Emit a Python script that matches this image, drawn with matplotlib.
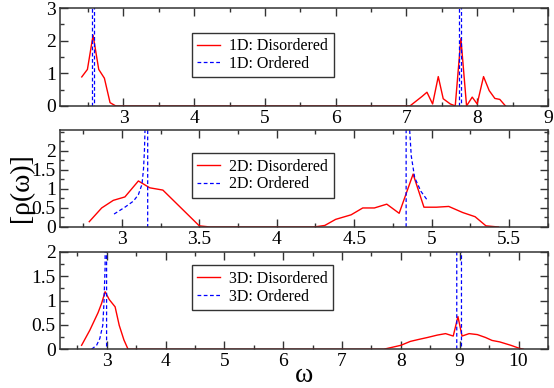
import numpy as np
import matplotlib
matplotlib.use("Agg")
import matplotlib.pyplot as plt
from matplotlib.ticker import MultipleLocator, FixedLocator


SERIF = "Liberation Serif"
plt.rcParams["font.family"] = SERIF

NAN = np.nan

# 1D chain
omega_1d_dis = [2.41, 2.49, 2.57, 2.65, 2.73, 2.81, 2.89, 3.5, 4.5, 5.5, 6.5, 7.05,
                7.22, 7.29, 7.37, 7.45, 7.52, 7.62, 7.69, 7.77, 7.85, 7.93, 8.00,
                8.09, 8.17, 8.25, 8.32, 8.40]
rho_1d_dis = [0.89, 1.12, 2.17, 1.12, 0.85, 0.10, 0.0, 0.0, 0.0, 0.0, 0.0, 0.0,
              0.29, 0.42, 0.06, 0.90, 0.22, 0.06, 0.0, 2.07, 0.0, 0.27, 0.06,
              0.90, 0.47, 0.23, 0.20, 0.0]
omega_1d_ord = [2.550, 2.550, 2.585, 2.585, NAN, 7.750, 7.750, 7.770, 7.770]
rho_1d_ord = [0.0, 20.0, 20.0, 0.0, NAN, 0.0, 20.0, 20.0, 0.0]

# 2D lattice
omega_2d_dis = [2.79, 2.87, 2.945, 3.02, 3.107, 3.18, 3.265, 3.50, 3.57, 4.24,
                4.31, 4.38, 4.48, 4.555, 4.63, 4.71, 4.79, 4.88, 4.95, 5.03,
                5.11, 5.20, 5.28, 5.35, 5.43]
rho_2d_dis = [0.14, 0.50, 0.70, 0.79, 1.21, 1.03, 0.97, 0.03, 0.0, 0.0,
              0.04, 0.20, 0.32, 0.50, 0.50, 0.60, 0.36, 1.39, 0.52, 0.52,
              0.54, 0.38, 0.27, 0.03, 0.0]
omega_2d_ord = [2.95, 3.02, 3.075, 3.107, 3.13, 3.14, 3.146, 3.15, 3.158, 3.167,
                3.167, NAN, 4.835, 4.835, 4.850, 4.857, 4.868, 4.89, 4.93, 4.976]
rho_2d_ord = [0.34, 0.52, 0.68, 0.85, 1.12, 1.52, 2.0, 2.6, 20.0, 20.0,
              0.0, NAN, 0.0, 20.0, 20.0, 2.6, 1.87, 1.30, 0.94, 0.68]

# 3D lattice
omega_3d_dis = [2.57, 2.71, 2.85, 2.91, 2.97, 3.04, 3.14, 3.21, 3.29, 3.36,
                4.5, 6.0, 7.71, 8.00, 8.16, 8.30, 8.45, 8.62, 8.76, 8.89,
                8.97, 9.04, 9.16, 9.30, 9.44, 9.55, 9.68, 9.87, 10.01, 10.08]
rho_3d_dis = [0.08, 0.39, 0.75, 0.94, 1.18, 1.02, 0.87, 0.49, 0.19, 0.0,
              0.0, 0.0, 0.0, 0.08, 0.16, 0.20, 0.24, 0.29, 0.32, 0.27,
              0.67, 0.27, 0.32, 0.30, 0.24, 0.18, 0.15, 0.08, 0.02, 0.0]
omega_3d_ord = [2.74, 2.825, 2.88, 2.93, 2.95, 2.97, 2.98, 2.995, 2.995, NAN,
                8.95, 8.95, 9.03, 9.03]
rho_3d_ord = [0.0, 0.08, 0.22, 0.49, 0.94, 1.70, 20.0, 20.0, 0.0, NAN,
              0.0, 20.0, 20.0, 0.0]

PANELS = [
    {
        "name": "1D",
        "dis": (omega_1d_dis, rho_1d_dis),
        "ord": (omega_1d_ord, rho_1d_ord),
        "xlim": (2.1, 9.0), "ylim": (0, 3.0),
        "xmajor": 1.0, "xminor": 0.5,
        "yticks": [0, 1, 2, 3], "yminor": 0.5,
        "rect": [0.108, 0.727, 0.881, 0.252],
        "legend_top": 0.75,
    },
    {
        "name": "2D",
        "dis": (omega_2d_dis, rho_2d_dis),
        "ord": (omega_2d_ord, rho_2d_ord),
        "xlim": (2.6, 5.75), "ylim": (0, 2.55),
        "xmajor": 0.5, "xminor": 0.25,
        "yticks": [0, 0.5, 1, 1.5, 2], "yminor": 0.25,
        "rect": [0.108, 0.415, 0.881, 0.250],
        "legend_top": 0.76,
    },
    {
        "name": "3D",
        "dis": (omega_3d_dis, rho_3d_dis),
        "ord": (omega_3d_ord, rho_3d_ord),
        "xlim": (2.2, 10.5), "ylim": (0, 2.0),
        "xmajor": 1.0, "xminor": 0.5,
        "yticks": [0, 0.5, 1, 1.5, 2], "yminor": 0.25,
        "rect": [0.108, 0.100, 0.881, 0.251],
        "legend_top": 0.86,
    },
]


def fmt(v):
    return f"{v:g}"


def draw_panel(fig, panel):
    ax = fig.add_axes(panel["rect"])

    x, y = panel["dis"]
    ax.plot(x, y, color="#ff0000", linewidth=1.0,
            label=f"{panel['name']}: Disordered")

    x, y = panel["ord"]
    ax.plot(x, y, color="#0000ff", linewidth=0.9, dashes=(3, 2),
            label=f"{panel['name']}: Ordered")

    ax.set_xlim(*panel["xlim"])
    ax.set_ylim(*panel["ylim"])

    ax.xaxis.set_major_locator(MultipleLocator(panel["xmajor"]))
    ax.xaxis.set_minor_locator(MultipleLocator(panel["xminor"]))
    ax.yaxis.set_major_locator(FixedLocator(panel["yticks"]))
    ax.yaxis.set_minor_locator(MultipleLocator(panel["yminor"]))
    ax.xaxis.set_major_formatter(plt.FuncFormatter(lambda v, p: fmt(v)))
    ax.yaxis.set_major_formatter(plt.FuncFormatter(lambda v, p: fmt(v)))

    ax.tick_params(which="both", direction="in", top=True, right=True,
                   color="#333333", labelsize=14, pad=3)
    ax.tick_params(which="major", length=6, width=1.0)
    ax.tick_params(which="minor", length=3, width=1.0)

    for spine in ax.spines.values():
        spine.set_color("#333333")
        spine.set_linewidth(1.1)

    legend = ax.legend(
        loc="upper left",
        bbox_to_anchor=(0.27, panel["legend_top"]),
        borderaxespad=0,
        prop={"family": SERIF, "size": 11.5},
        fancybox=False,
        framealpha=1,
        handlelength=1.4,
        handletextpad=0.6,
        borderpad=0.35,
        labelspacing=0.1,
    )
    legend.get_frame().set_edgecolor("#333333")
    legend.get_frame().set_linewidth(1.0)

    return ax


def main():
    fig = plt.figure(figsize=(5.54, 3.88), dpi=100)

    for panel in PANELS:
        draw_panel(fig, panel)

    fig.text(0.038, 1 - 188 / 388, "[ρ(ω)]", rotation=90, family=SERIF,
             ha="center", va="center", fontsize=20)
    fig.text(0.549, 0.032, "ω", family=SERIF,
             ha="center", va="center", fontsize=20)

    fig.savefig("out.png", dpi=100)
    plt.close(fig)


if __name__ == "__main__":
    main()
